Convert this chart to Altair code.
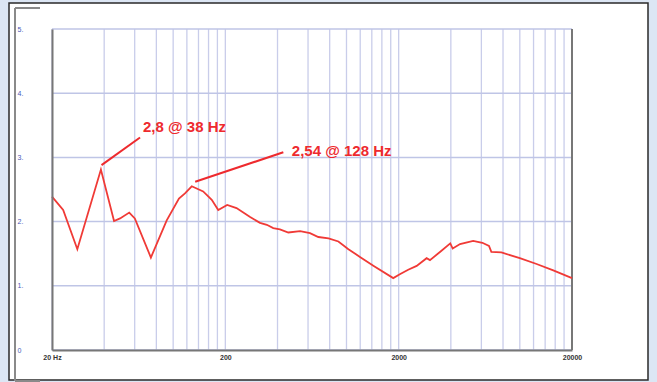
import altair as alt
import pandas as pd

# Impedance-like curve (Hz, value)
freqs = [20, 23.2, 28, 38.3, 45.6, 49.4, 55.8, 60.1, 74.4, 91.8,
         108, 117, 128, 149, 167, 182, 205, 232, 278, 317,
         347, 378, 413, 462, 540, 616, 688, 788, 898, 1026,
         1196, 1436, 1861, 2031, 2270, 2540, 2900, 3030, 3476, 3970,
         4100, 4520, 5380, 6080, 6640, 6850, 7830, 10000, 12500, 15600,
         20000]
values = [2.39, 2.18, 1.57, 2.81, 2.01, 2.05, 2.14, 2.05, 1.44, 2.02,
          2.36, 2.44, 2.55, 2.47, 2.34, 2.18, 2.26, 2.21, 2.07, 1.98,
          1.95, 1.90, 1.88, 1.83, 1.85, 1.82, 1.76, 1.74, 1.69, 1.57,
          1.45, 1.31, 1.12, 1.18, 1.25, 1.31, 1.43, 1.40, 1.53, 1.66,
          1.58, 1.65, 1.70, 1.67, 1.62, 1.53, 1.52, 1.43, 1.34, 1.24,
          1.12]

# Annotations
ann_text = ["2,8 @ 38 Hz", "2,54 @ 128 Hz"]
ann_f_start = [38.6, 134]
ann_v_start = [2.88, 2.62]
ann_f_end = [64.4, 432]
ann_v_end = [3.31, 3.08]
ann_f_text = [67, 484]
ann_v_text = [3.47, 3.10]

# Grid / tick values
x_grid = [20, 40, 60, 80, 100, 120, 140, 160, 180,
          200, 400, 600, 800, 1000, 1200, 1400, 1600, 1800,
          2000, 4000, 6000, 8000, 10000, 12000, 14000, 16000, 18000, 20000]
y_ticks = [0, 1, 2, 3, 4, 5]

FONT = "Liberation Sans"

curve = pd.DataFrame({"f": freqs, "v": values})
ann = pd.DataFrame({"text": ann_text, "f1": ann_f_start, "v1": ann_v_start,
                    "f2": ann_f_end, "v2": ann_v_end,
                    "ft": ann_f_text, "vt": ann_v_text})
xg = pd.DataFrame({"f": x_grid})
yg = pd.DataFrame({"v": y_ticks})
dummy = pd.DataFrame({"a": [0]})

xscale = alt.Scale(type="log", domain=[20, 20000], nice=False)
yscale = alt.Scale(domain=[0, 5], nice=False, zero=True)

xaxis = alt.Axis(values=x_grid, grid=False, zindex=1,
                 labelExpr="datum.value == 20 ? '20 Hz' : (datum.value == 200 || datum.value == 2000 || datum.value == 20000) ? datum.label : ''",
                 format="d", labelOverlap=False, labelFlush=False,
                 labelFont=FONT, labelFontSize=7, labelFontWeight="bold", labelColor="#333333",
                 labelPadding=3, ticks=False, domain=True, domainColor="#777777", domainWidth=2,
                 title=None)
yaxis = alt.Axis(values=y_ticks, grid=False, zindex=1, format="d",
                 labelExpr="datum.value == 0 ? '0' : datum.label + '.'",
                 labelAlign="left", labelPadding=35, labelFont=FONT, labelFontSize=7,
                 labelColor="#4a58b8", ticks=False, domain=True, domainColor="#777777",
                 domainWidth=2, title=None)

panel = alt.Chart(dummy).mark_rect(fill="white", stroke="#2a2a2a", strokeWidth=1.5).encode(
    x=alt.value(-43), x2=alt.value(596), y=alt.value(-26), y2=alt.value(351))

bracket_v = alt.Chart(dummy).mark_rule(color="#8a8a8a", strokeWidth=2).encode(
    x=alt.value(-37), y=alt.value(-21), y2=alt.value(352))
bracket_t = alt.Chart(dummy).mark_rule(color="#8a8a8a", strokeWidth=2).encode(
    x=alt.value(-37), x2=alt.value(-12), y=alt.value(-21))
bracket_b = alt.Chart(dummy).mark_rule(color="#8a8a8a", strokeWidth=2).encode(
    x=alt.value(-37), x2=alt.value(-12), y=alt.value(352))

vgrid = alt.Chart(xg).mark_rule(color="#c9cdea", strokeWidth=1.3).encode(
    x=alt.X("f:Q", scale=xscale, axis=xaxis),
    y=alt.value(0), y2=alt.value(321))
hgrid = alt.Chart(yg).mark_rule(color="#bfc5e6", strokeWidth=1.5).encode(
    y=alt.Y("v:Q", scale=yscale, axis=yaxis),
    x=alt.value(0), x2=alt.value(520))

right_border = alt.Chart(dummy).mark_rule(color="#777777", strokeWidth=2).encode(
    x=alt.value(520), y=alt.value(0), y2=alt.value(321))

line = alt.Chart(curve).mark_line(color="#f03a36", strokeWidth=1.8).encode(
    x=alt.X("f:Q", scale=xscale),
    y=alt.Y("v:Q", scale=yscale))

ann_lines = alt.Chart(ann).mark_rule(color="#ee2a2e", strokeWidth=2).encode(
    x=alt.X("f1:Q", scale=xscale), x2="f2:Q",
    y=alt.Y("v1:Q", scale=yscale), y2="v2:Q")

ann_labels = alt.Chart(ann).mark_text(align="left", baseline="middle", font=FONT,
                                      fontSize=15, fontWeight="bold", color="#ee2a2e").encode(
    x=alt.X("ft:Q", scale=xscale),
    y=alt.Y("vt:Q", scale=yscale),
    text="text:N")

chart = alt.layer(panel, bracket_v, bracket_t, bracket_b, vgrid, hgrid, right_border,
                  line, ann_lines, ann_labels).properties(
    width=520, height=321,
    padding={"left": 52, "top": 29, "right": 85, "bottom": 32},
    autosize=alt.AutoSizeParams(type="none"),
    background="#dce6f4",
).configure_view(stroke=None)

chart.save("out.html", embed_options={"renderer": "svg", "actions": False})
